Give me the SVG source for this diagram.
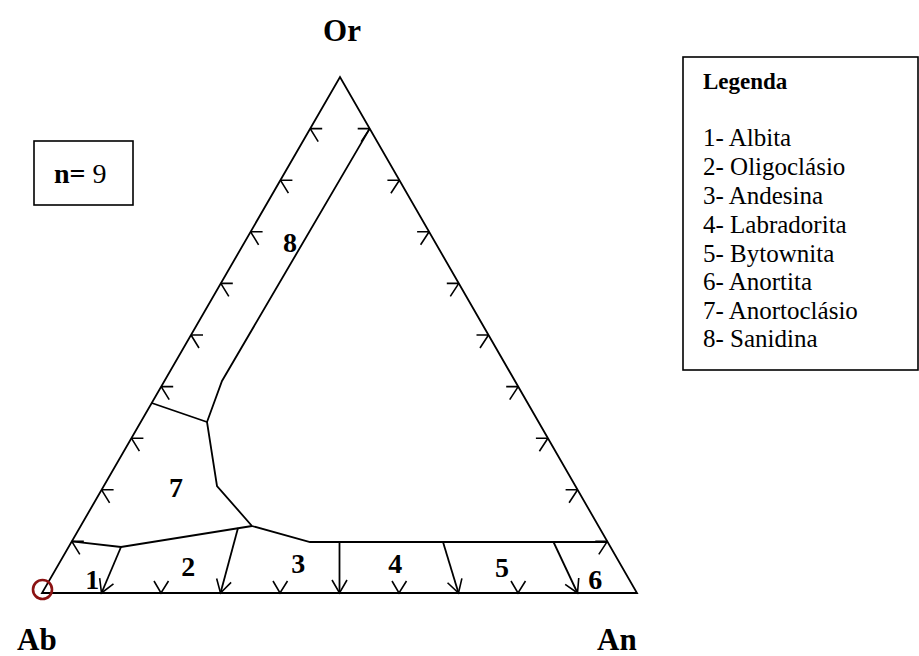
<svg xmlns="http://www.w3.org/2000/svg" xmlns:xlink="http://www.w3.org/1999/xlink" width="919" height="656" viewBox="0 0 919 656">
<style>
.ln{fill:none;stroke:#000;stroke-width:1.8;stroke-linejoin:miter}
.tk{fill:none;stroke:#000;stroke-width:1.6}
.bx{fill:#fff;stroke:#000;stroke-width:1.6}
.vt{font-family:"Liberation Serif","Times New Roman",serif;font-weight:bold;font-size:31px;fill:#000}
.num{font-family:"Liberation Serif","Times New Roman",serif;font-weight:bold;font-size:28px;fill:#000;text-anchor:middle}
.lg{font-family:"Liberation Serif","Times New Roman",serif;font-size:25px;fill:#000}
.lgh{font-family:"Liberation Serif","Times New Roman",serif;font-size:23px;font-weight:bold;fill:#000}
.nn{font-family:"Liberation Serif","Times New Roman",serif;font-size:28px;fill:#000}
</style>
<defs>
<path id="tl" class="tk" d="M0,0 h12 M0,0 l8,13"/>
<path id="tr" class="tk" d="M0,0 h-12 M0,0 l-8.5,13"/>
<path id="tb" class="tk" d="M-7,-12 L0,0 L7.5,-12"/>
<marker id="ah" markerUnits="userSpaceOnUse" markerWidth="30" markerHeight="30" viewBox="-15 -15 30 30" refX="0" refY="0" orient="auto">
<path d="M-13,-7.5 L0,0 L-13,7.5" fill="none" stroke="#000" stroke-width="1.6"/>
</marker>
</defs>
<rect width="919" height="656" fill="#fff"/>

<g id="triangle">
<polygon class="ln" points="42,593 637,593 340,77"/>
<g id="ticks-left">
<use xlink:href="#tl" x="71.8" y="541.4"/>
<use xlink:href="#tl" x="101.6" y="489.8"/>
<use xlink:href="#tl" x="131.4" y="438.2"/>
<use xlink:href="#tl" x="161.2" y="386.6"/>
<use xlink:href="#tl" x="191" y="335"/>
<use xlink:href="#tl" x="220.8" y="283.4"/>
<use xlink:href="#tl" x="250.6" y="231.8"/>
<use xlink:href="#tl" x="280.4" y="180.2"/>
<use xlink:href="#tl" x="310.2" y="128.6"/>
</g>
<g id="ticks-right">
<use xlink:href="#tr" x="369.7" y="128.6"/>
<use xlink:href="#tr" x="399.4" y="180.2"/>
<use xlink:href="#tr" x="429.1" y="231.8"/>
<use xlink:href="#tr" x="458.8" y="283.4"/>
<use xlink:href="#tr" x="488.5" y="335"/>
<use xlink:href="#tr" x="518.2" y="386.6"/>
<use xlink:href="#tr" x="547.9" y="438.2"/>
<use xlink:href="#tr" x="577.6" y="489.8"/>
<use xlink:href="#tr" x="607.3" y="541.4"/>
</g>
<g id="ticks-bottom">
<use xlink:href="#tb" x="161" y="593"/>
<use xlink:href="#tb" x="280" y="593"/>
<use xlink:href="#tb" x="399" y="593"/>
<use xlink:href="#tb" x="518" y="593"/>
</g>
</g>

<g id="connectors">
<polyline class="ln" points="369.7,128.6 222,381 207,422 217,486 252,526 310,542 607.6,542"/>
<line class="ln" x1="207" y1="422" x2="151.7" y2="403"/>
<polyline class="ln" points="252,526 121,547 71.8,541.4"/>
<line class="ln" x1="121" y1="547" x2="101.5" y2="593" marker-end="url(#ah)"/>
<line class="ln" x1="238" y1="528" x2="220.5" y2="593" marker-end="url(#ah)"/>
<line class="ln" x1="339.5" y1="542" x2="339.5" y2="593" marker-end="url(#ah)"/>
<line class="ln" x1="443" y1="542" x2="458.5" y2="593" marker-end="url(#ah)"/>
<line class="ln" x1="553.5" y1="542" x2="577.5" y2="593" marker-end="url(#ah)"/>
</g>

<g id="vertex-labels">
<text class="vt" x="342" y="41" text-anchor="middle">Or</text>
<text class="vt" x="17" y="650">Ab</text>
<text class="vt" x="597" y="650">An</text>
</g>

<g id="region-labels">
<text class="num" x="92.3" y="589">1</text>
<text class="num" x="188.3" y="576">2</text>
<text class="num" x="298.3" y="572.5">3</text>
<text class="num" x="395.3" y="573">4</text>
<text class="num" x="502" y="577">5</text>
<text class="num" x="595.3" y="589">6</text>
<text class="num" x="176" y="497">7</text>
<text class="num" x="290" y="252">8</text>
</g>

<g id="origin-marker">
<circle cx="42.5" cy="589.5" r="9.5" fill="none" stroke="#8b1212" stroke-width="2.6"/>
</g>

<g id="n-box">
<rect class="bx" x="34" y="141" width="99" height="64"/>
<text class="nn" x="54" y="183"><tspan font-weight="bold">n=</tspan> 9</text>
</g>

<g id="legend">
<rect class="bx" x="683" y="57" width="235" height="313"/>
<text class="lgh" x="703" y="88.5">Legenda</text>
<text class="lg" x="703" y="146">1- Albita</text>
<text class="lg" x="703" y="175">2- Oligoclásio</text>
<text class="lg" x="703" y="203.5">3- Andesina</text>
<text class="lg" x="703" y="232.5">4- Labradorita</text>
<text class="lg" x="703" y="261.5">5- Bytownita</text>
<text class="lg" x="703" y="290">6- Anortita</text>
<text class="lg" x="703" y="318.5">7- Anortoclásio</text>
<text class="lg" x="703" y="347">8- Sanidina</text>
</g>
</svg>
